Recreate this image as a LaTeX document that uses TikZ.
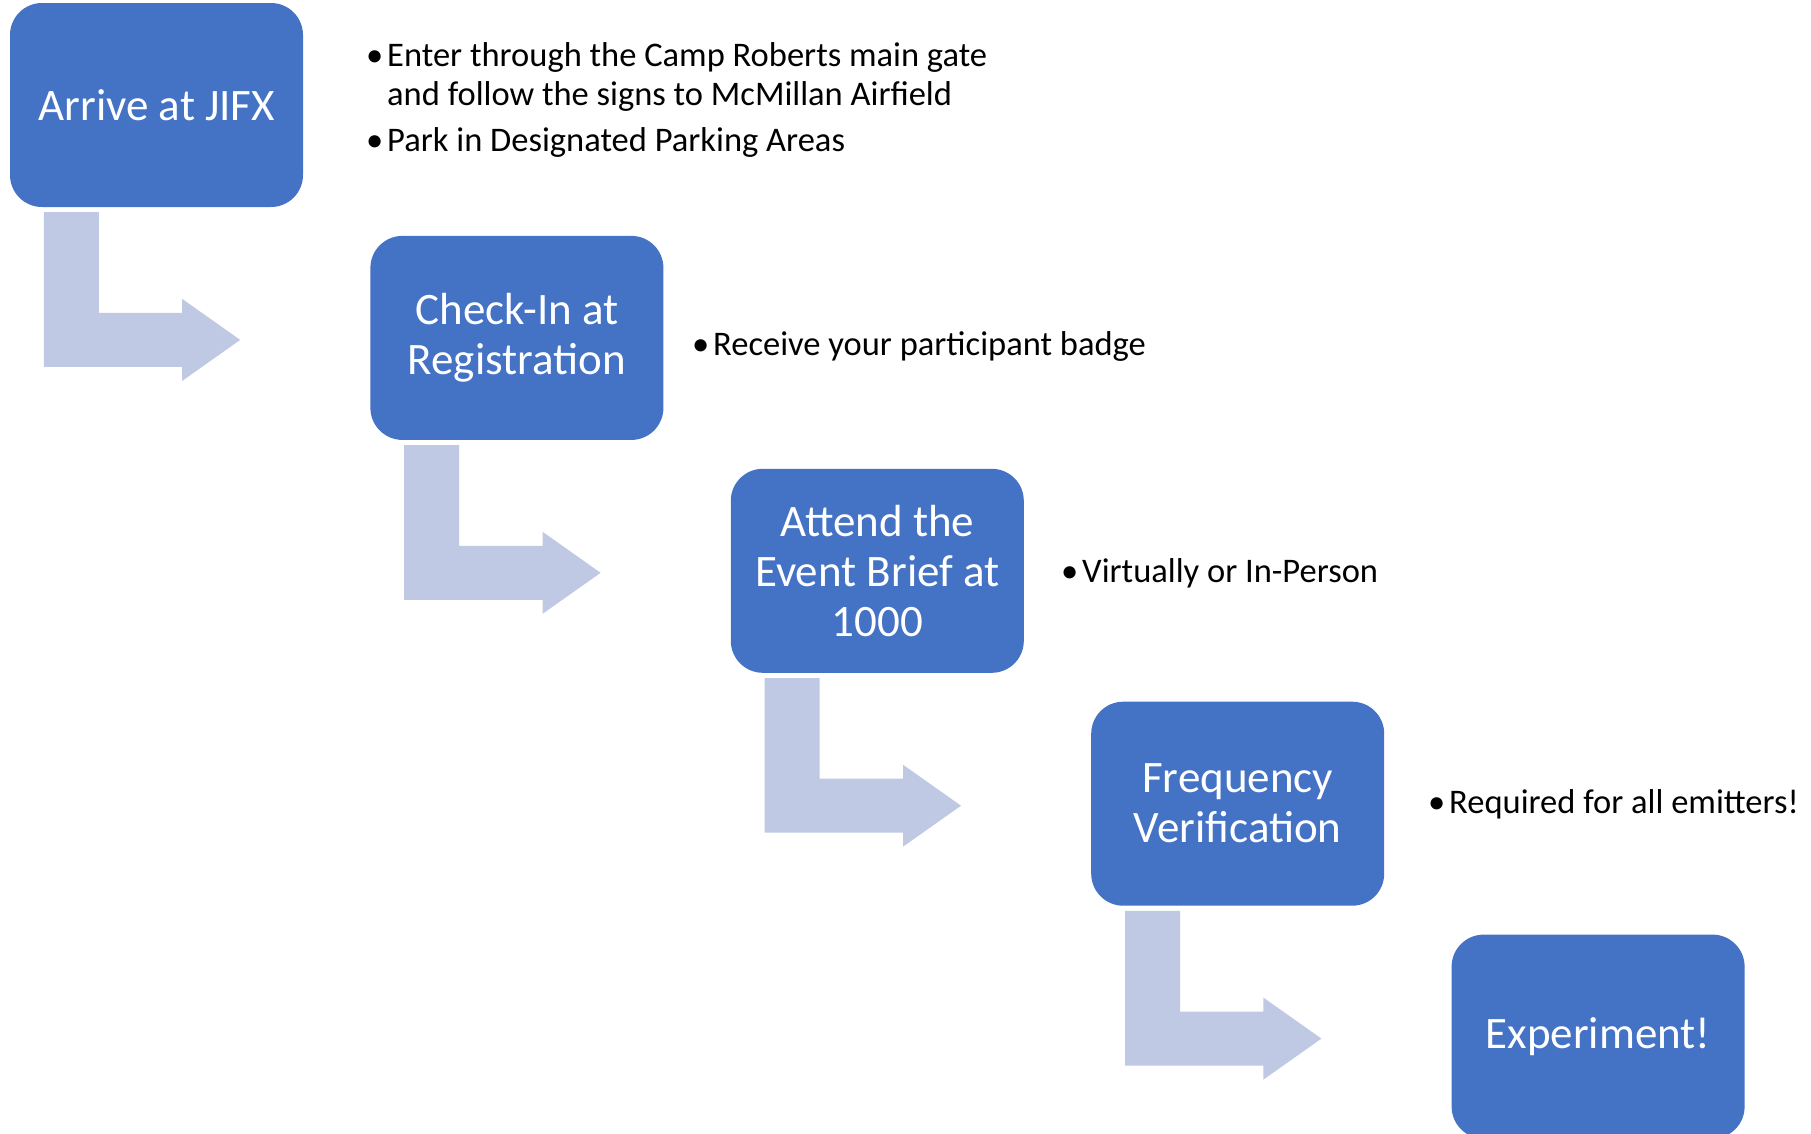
\documentclass[tikz,border=0pt]{standalone}
\usepackage{fontspec}
\setmainfont{Carlito}
\usetikzlibrary{positioning,calc}
\definecolor{boxblue}{HTML}{4472C4}
\definecolor{arrowblue}{HTML}{BFC9E3}
\newcommand{\dotmark}{\makebox[21pt][l]{\textbullet}}

\begin{document}
\begin{tikzpicture}[x=1pt,y=1pt,
	stepbox/.style={rectangle,rounded corners=32pt,fill=boxblue,text=white,minimum width=293pt,minimum height=204pt,inner sep=0pt,align=center,font=\fontsize{45}{50}\selectfont},
	note/.style={anchor=west,inner sep=0pt,align=left,font=\fontsize{34.5}{39}\selectfont},
	elbow/.style={fill=arrowblue}]
	\useasboundingbox (0,0) rectangle (1811,-1133);
	\clip (0,0) rectangle (1811,-1133);
	% steps
	\node[stepbox] (arrive) at (156.5,-105) {Arrive at JIFX};
	\node[stepbox,below right=28.5pt and 67pt of arrive] (checkin) {Check-In at\\Registration};
	\node[stepbox,below right=28.5pt and 67pt of checkin] (brief) {Attend the\\Event Brief at\\1000};
	\node[stepbox,below right=28.5pt and 67pt of brief] (freq) {Frequency\\Verification};
	\node[stepbox,below right=28.5pt and 67pt of freq] (experiment) {Experiment!};
	% notes
	\node[note] (gate) at (366,-100) {\dotmark Enter through the Camp Roberts main gate\\\hspace*{21pt}and follow the signs to McMillan Airfield\\[7pt]\dotmark Park in Designated Parking Areas};
	\node[note] (badge) at (692,-346) {\dotmark Receive your participant badge};
	\node[note] (virtual) at (1061,-573) {\dotmark Virtually or In-Person};
	\node[note] (emitters) at (1428,-804) {\dotmark Required for all emitters!};
	% elbow arrows
	\fill[elbow] ($(arrive.south west)+(34,-5)$) -- ++(55,0) |- ($(checkin.west)+(-188,25)$) -- ++(0,14) -- ($(checkin.west)+(-130,-2)$) -- ++(-58,-41) -- ++(0,14) -| ($(arrive.south west)+(34,-5)$) -- cycle;
	\fill[elbow] ($(checkin.south west)+(34,-5)$) -- ++(55,0) |- ($(brief.west)+(-188,25)$) -- ++(0,14) -- ($(brief.west)+(-130,-2)$) -- ++(-58,-41) -- ++(0,14) -| ($(checkin.south west)+(34,-5)$) -- cycle;
	\fill[elbow] ($(brief.south west)+(34,-5)$) -- ++(55,0) |- ($(freq.west)+(-188,25)$) -- ++(0,14) -- ($(freq.west)+(-130,-2)$) -- ++(-58,-41) -- ++(0,14) -| ($(brief.south west)+(34,-5)$) -- cycle;
	\fill[elbow] ($(freq.south west)+(34,-5)$) -- ++(55,0) |- ($(experiment.west)+(-188,25)$) -- ++(0,14) -- ($(experiment.west)+(-130,-2)$) -- ++(-58,-41) -- ++(0,14) -| ($(freq.south west)+(34,-5)$) -- cycle;
\end{tikzpicture}
\end{document}
